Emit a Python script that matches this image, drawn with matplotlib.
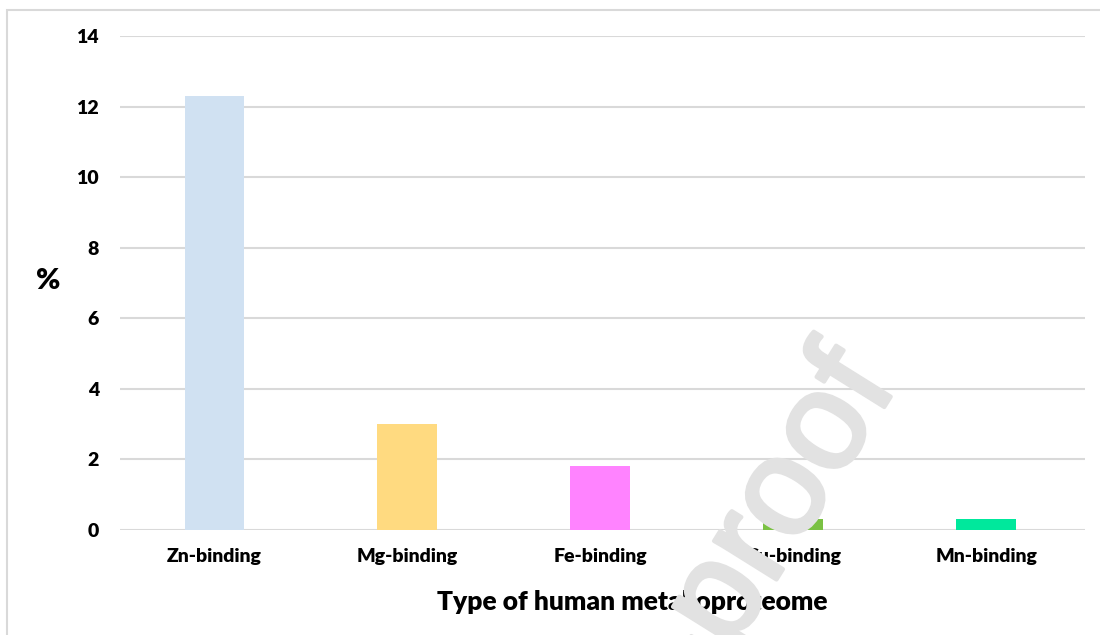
import matplotlib
matplotlib.use("Agg")
import matplotlib.pyplot as plt
import matplotlib.patheffects as pe
from matplotlib.patches import Rectangle

# data
categories = ["Zn-binding", "Mg-binding", "Fe-binding", "Cu-binding", "Mn-binding"]
percent = [12.3, 3.0, 1.8, 0.3, 0.3]
bar_colors = ["#d0e1f2", "#ffda80", "#ff83ff", "#7ac143", "#00e89c"]
y_ticks = [0, 2, 4, 6, 8, 10, 12, 14]

plt.rcParams["font.family"] = ["Lato", "DejaVu Sans"]

fig = plt.figure(figsize=(11, 6.35), dpi=100)
ax = fig.add_axes([0.109, 0.1654, 0.877, 0.7779])

x = range(len(categories))
ax.bar(x, percent, width=0.31, color=bar_colors, zorder=2)

ax.set_xlim(-0.49, 4.51)
ax.set_ylim(0, 14)
ax.set_yticks(y_ticks)
ax.set_xticks(list(x))
ax.set_xticklabels(categories, fontsize=14, fontweight="heavy")
ax.set_yticklabels([str(t) for t in y_ticks], fontsize=14, fontweight="heavy")
ax.tick_params(length=0, axis="y", pad=15)
ax.tick_params(length=0, axis="x", pad=13)
ax.grid(axis="y", color="#d9d9d9", linewidth=1.5, zorder=0)
ax.set_axisbelow(True)
for s in ax.spines.values():
    s.set_visible(False)

fig.text(0.5745, 0.052, "Type of human metalloproteome", ha="center", va="center",
         fontsize=19, fontweight="heavy")
fig.text(0.044, 0.557, "%", ha="center", va="center", fontsize=21, fontweight="heavy")

# outer frame of the chart area
fig.patches.append(Rectangle((7 / 1100, -0.2), 1.2, 1.2 - 10 / 635,
                             transform=fig.transFigure, fill=False,
                             edgecolor="#d9d9d9", linewidth=1.5))

# page watermark
wm = fig.text(0.8164, 0.3937, "Journal Pre-proof", rotation=58, rotation_mode="anchor",
              ha="right", va="baseline", fontsize=100, color="#e2e2e2",
              family=["Liberation Sans"], zorder=10)
wm.set_path_effects([pe.withStroke(linewidth=3, foreground="#e2e2e2")])

fig.savefig("out.png", dpi=100)
